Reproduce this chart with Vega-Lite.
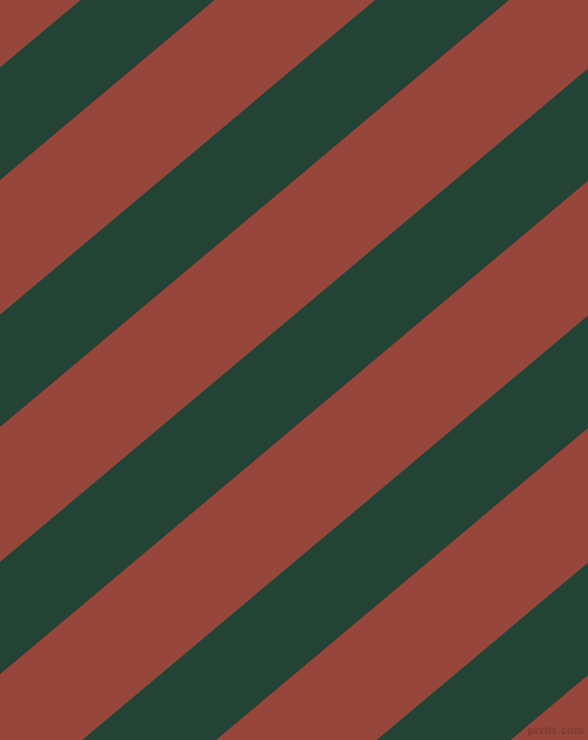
{
  "$schema": "https://vega.github.io/schema/vega-lite/v6.json",
  "width": 588,
  "height": 740,
  "padding": 0,
  "autosize": {"type": "none"},
  "background": "#96463b",
  "datasets": {
    "stripes": [
      {"stripe": 1, "x": 0, "top": 67.6, "bottom": 180.0},
      {"stripe": 1, "x": 588, "top": -425.8, "bottom": -313.4},
      {"stripe": 2, "x": 0, "top": 314.7, "bottom": 427.1},
      {"stripe": 2, "x": 588, "top": -178.6, "bottom": -66.3},
      {"stripe": 3, "x": 0, "top": 561.9, "bottom": 674.2},
      {"stripe": 3, "x": 588, "top": 68.5, "bottom": 180.8},
      {"stripe": 4, "x": 0, "top": 809.0, "bottom": 921.3},
      {"stripe": 4, "x": 588, "top": 315.6, "bottom": 427.9},
      {"stripe": 5, "x": 0, "top": 1056.1, "bottom": 1168.5},
      {"stripe": 5, "x": 588, "top": 562.7, "bottom": 675.1}
    ],
    "mark": [
      {"x": 584, "y": 731, "label": "pixlis.com"}
    ]
  },
  "layer": [
    {
      "data": {"name": "stripes"},
      "mark": {"type": "area", "color": "#224336", "clip": true, "interpolate": "linear"},
      "encoding": {
        "x": {"field": "x", "type": "quantitative", "axis": null,
              "scale": {"domain": [0, 588], "nice": false, "zero": false}},
        "y": {"field": "top", "type": "quantitative", "axis": null,
              "scale": {"domain": [0, 740], "nice": false, "zero": false, "reverse": true}},
        "y2": {"field": "bottom"},
        "detail": {"field": "stripe", "type": "nominal"}
      }
    },
    {
      "data": {"name": "mark"},
      "mark": {"type": "text", "align": "right", "baseline": "middle", "font": "DejaVu Sans",
               "fontSize": 10, "fontWeight": "bold", "color": "#7c3a31", "opacity": 0.8},
      "encoding": {
        "x": {"field": "x", "type": "quantitative"},
        "y": {"field": "y", "type": "quantitative"},
        "text": {"field": "label"}
      }
    }
  ],
  "config": {"view": {"stroke": null}}
}
